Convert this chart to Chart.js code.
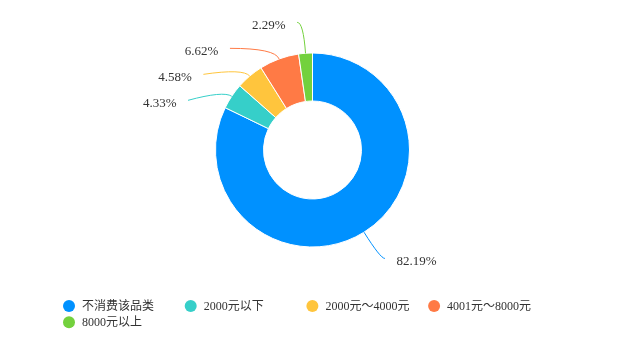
<!DOCTYPE html>
<html>
<head>
<meta charset="utf-8">
<script src="https://cdn.jsdelivr.net/npm/chart.js@4/dist/chart.umd.min.js"></script>
<style>
  html, body { margin: 0; padding: 0; background: #fff; }
  #wrap { width: 625px; height: 355px; }
</style>
</head>
<body>
<div id="wrap"><canvas id="c" width="625" height="355"></canvas></div>
<script>
const categories = ['不消费该品类', '2000元以下', '2000元～4000元', '4001元～8000元', '8000元以上'];
const shares = [82.19, 4.33, 4.58, 6.62, 2.29];
const colors = ['#0091ff', '#36cfc9', '#ffc53d', '#ff7a45', '#73d13d'];

const LABEL_FONT = '13px "Liberation Serif", "Noto Sans CJK SC", serif';
const LEGEND_FONT = '12px "Liberation Serif", "Noto Sans CJK SC", serif';

const pieLabels = {
  id: 'pieLabels',
  afterDatasetsDraw(chart) {
    const ctx = chart.ctx;
    const meta = chart.getDatasetMeta(0);
    const arcs = meta.data;
    if (!arcs.length) return;
    const cx = arcs[0].x, cy = arcs[0].y, r = arcs[0].outerRadius;
    const items = arcs.map((a, i) => {
      const mid = (a.startAngle + a.endAngle) / 2;
      const dx = Math.cos(mid), dy = Math.sin(mid);
      return {
        i, dx, dy, side: dx < 0 ? -1 : 1,
        sx: cx + r * dx, sy: cy + r * dy,
        y: cy + (r + 31) * dy
      };
    });
    const gap = 26;
    [-1, 1].forEach(side => {
      const list = items.filter(it => it.side === side).sort((p, q) => p.y - q.y);
      for (let k = 1; k < list.length; k++) {
        if (list[k].y < list[k - 1].y + gap) list[k].y = list[k - 1].y + gap;
      }
    });
    const ax = r + 38, by = r + 31.5;
    ctx.save();
    items.forEach(it => {
      const ddy = (it.y - cy) / by;
      const px = cx + it.side * ax * Math.sqrt(Math.max(0, 1 - ddy * ddy));
      const py = it.y;
      let L = 10;
      if (Math.abs(it.dy) > 1e-6) {
        const reach = (py - it.sy) / it.dy;
        if (reach > L) L = reach;
      }
      const ex = it.sx + it.dx * L, ey = it.sy + it.dy * L;
      ctx.strokeStyle = colors[it.i];
      ctx.lineWidth = 1;
      ctx.beginPath();
      ctx.moveTo(it.sx, it.sy);
      ctx.quadraticCurveTo(ex, ey, px, py);
      ctx.stroke();
      ctx.fillStyle = '#333';
      ctx.font = LABEL_FONT;
      ctx.textBaseline = 'middle';
      ctx.textAlign = it.side < 0 ? 'right' : 'left';
      ctx.fillText(shares[it.i].toFixed(2) + '%', px + it.side * 11.5, py + 3.5);
    });
    ctx.restore();
  }
};

const customLegend = {
  id: 'customLegend',
  afterDraw(chart) {
    const ctx = chart.ctx;
    const x0 = 69, step = 121.7, y0 = 306, rowH = 16.3, perRow = 4;
    ctx.save();
    ctx.font = LEGEND_FONT;
    ctx.textBaseline = 'middle';
    ctx.textAlign = 'left';
    categories.forEach((name, i) => {
      const col = i % perRow, row = Math.floor(i / perRow);
      const x = x0 + col * step, y = y0 + row * rowH;
      ctx.fillStyle = colors[i];
      ctx.beginPath();
      ctx.arc(x, y, 6, 0, Math.PI * 2);
      ctx.fill();
      ctx.fillStyle = '#333';
      ctx.fillText(name, x + 13, y + 0.5);
    });
    ctx.restore();
  }
};

new Chart(document.getElementById('c'), {
  type: 'doughnut',
  data: {
    labels: categories,
    datasets: [{
      data: shares,
      backgroundColor: colors,
      borderColor: '#ffffff',
      borderWidth: 1
    }]
  },
  options: {
    responsive: false,
    animation: false,
    radius: 97,
    cutout: '50.5%',
    layout: { padding: { top: 0, bottom: 55, left: 0, right: 0 } },
    plugins: {
      legend: { display: false },
      tooltip: { enabled: false }
    }
  },
  plugins: [pieLabels, customLegend]
});
</script>
</body>
</html>
